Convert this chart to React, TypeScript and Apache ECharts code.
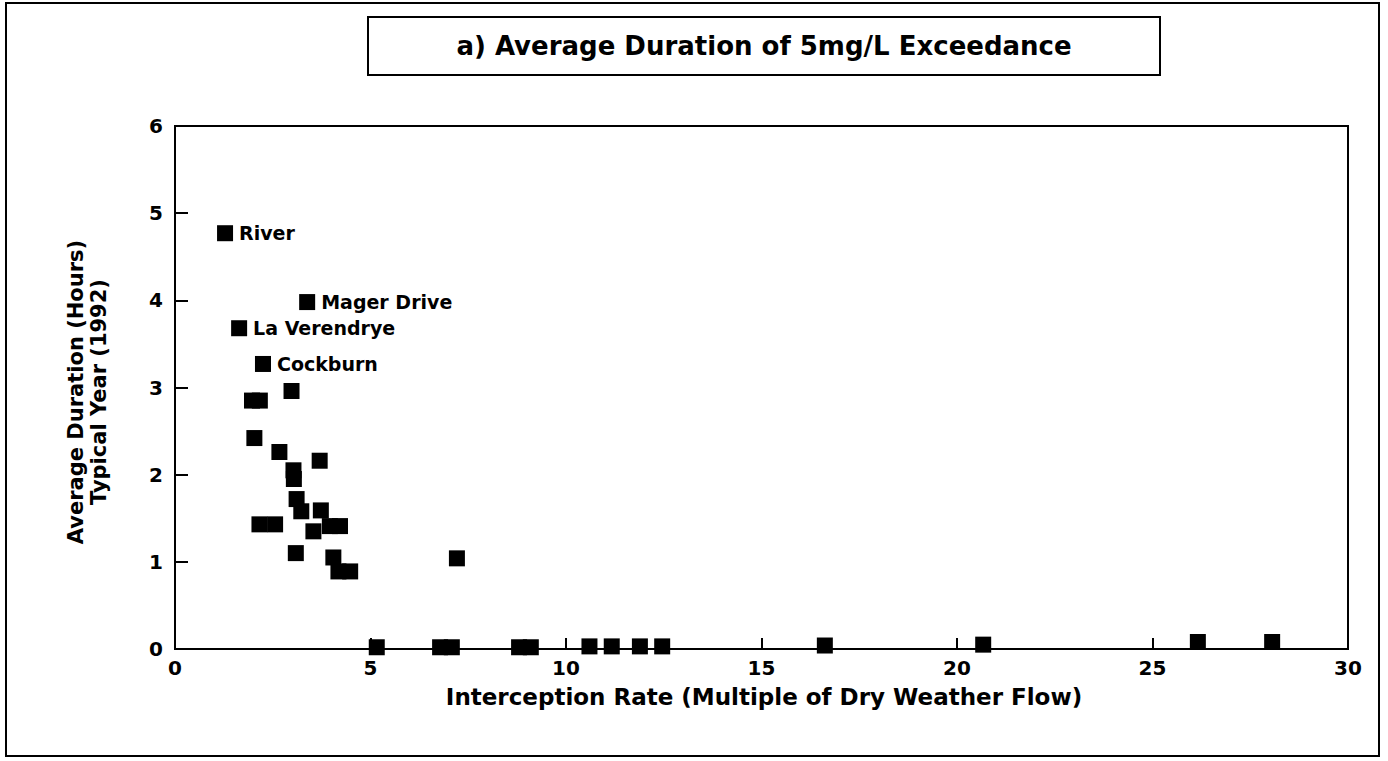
import React, { useEffect, useRef } from "react";
import * as echarts from "echarts";

const TITLE = "a) Average Duration of 5mg/L Exceedance";
const X_NAME = "Interception Rate (Multiple of Dry Weather Flow)";
const Y_NAME = "Average Duration (Hours)\nTypical Year (1992)";

const xTicks = [0, 5, 10, 15, 20, 25, 30];
const yTicks = [0, 1, 2, 3, 4, 5, 6];

const rates = [
  1.28, 3.38, 1.64, 2.25,
  1.97, 2.17, 2.98, 2.03, 2.67, 3.7, 3.03, 3.04, 3.11, 3.23, 3.73, 3.54,
  3.96, 4.22, 2.16, 2.56, 3.09, 4.05, 4.18, 4.48, 7.21,
  5.16, 6.78, 7.08, 8.8, 9.1, 10.6, 11.17, 11.89, 12.46, 16.62, 20.67, 26.16, 28.06,
];
const durations = [
  4.77, 3.98, 3.68, 3.27,
  2.85, 2.85, 2.96, 2.42, 2.26, 2.16, 2.05, 1.95, 1.72, 1.58, 1.59, 1.35,
  1.41, 1.41, 1.43, 1.43, 1.1, 1.05, 0.89, 0.89, 1.04,
  0.02, 0.02, 0.02, 0.02, 0.02, 0.03, 0.03, 0.03, 0.03, 0.04, 0.05, 0.08, 0.08,
];
const siteLabels = ["River", "Mager Drive", "La Verendrye", "Cockburn"];

const FONT = "'DejaVu Sans', 'Liberation Sans', Arial, sans-serif";

export default function App() {
  const ref = useRef<HTMLDivElement>(null);
  useEffect(() => {
    if (!ref.current) return;
    const chart = echarts.init(ref.current, null, { renderer: "svg" });
    const data = rates.map((x, i) => ({
      value: [x, durations[i]],
      name: siteLabels[i] || "",
      label: { show: !!siteLabels[i] },
    }));
    chart.setOption({
      animation: false,
      backgroundColor: "#ffffff",
      grid: {
        left: 175,
        right: 40,
        top: 126,
        bottom: 112,
        show: true,
        borderColor: "#000",
        borderWidth: 2,
        backgroundColor: "transparent",
      },
      xAxis: {
        type: "value",
        min: xTicks[0],
        max: xTicks[xTicks.length - 1],
        interval: 5,
        axisLine: { show: true, onZero: false, lineStyle: { color: "#000", width: 2 } },
        axisTick: { show: true, inside: true, length: 11, lineStyle: { color: "#000", width: 2 } },
        splitLine: { show: false },
        axisLabel: { color: "#000", fontSize: 20, fontWeight: "bold", fontFamily: FONT, margin: 9 },
      },
      yAxis: {
        type: "value",
        min: yTicks[0],
        max: yTicks[yTicks.length - 1],
        interval: 1,
        axisLine: { show: true, onZero: false, lineStyle: { color: "#000", width: 2 } },
        axisTick: { show: true, inside: true, length: 13, lineStyle: { color: "#000", width: 2 } },
        splitLine: { show: false },
        axisLabel: { color: "#000", fontSize: 20, fontWeight: "bold", fontFamily: FONT, margin: 12 },
      },
      series: [
        {
          type: "scatter",
          symbol: "rect",
          symbolSize: 16,
          itemStyle: { color: "#000", opacity: 1 },
          emphasis: { disabled: true },
          z: 5,
          data,
          label: {
            position: "right",
            distance: 6,
            formatter: (p: any) => p.name,
            color: "#000",
            fontSize: 19,
            fontWeight: "bold",
            fontFamily: FONT,
          },
        },
      ],
      graphic: [
        {
          type: "rect",
          shape: { x: 6, y: 3, width: 1373, height: 753 },
          style: { fill: "none", stroke: "#000", lineWidth: 2 },
          silent: true,
        },
        {
          type: "rect",
          shape: { x: 368, y: 17, width: 792, height: 58 },
          style: { fill: "#fff", stroke: "#000", lineWidth: 2 },
          silent: true,
        },
        {
          type: "text",
          x: 764,
          y: 46,
          style: {
            text: TITLE,
            fill: "#000",
            font: `bold 26px ${FONT}`,
            textAlign: "center",
            textVerticalAlign: "middle",
          },
        },
        {
          type: "text",
          x: 87,
          y: 392,
          rotation: Math.PI / 2,
          style: {
            text: Y_NAME,
            fill: "#000",
            font: `bold 21px ${FONT}`,
            textAlign: "center",
            textVerticalAlign: "middle",
            lineHeight: 23,
          },
        },
        {
          type: "text",
          x: 764,
          y: 697,
          style: {
            text: X_NAME,
            fill: "#000",
            font: `bold 23px ${FONT}`,
            textAlign: "center",
            textVerticalAlign: "middle",
          },
        },
      ],
    });
    return () => chart.dispose();
  }, []);
  return (
    <div
      ref={ref}
      style={{ position: "fixed", left: 0, top: 0, width: 1388, height: 761 }}
    />
  );
}
